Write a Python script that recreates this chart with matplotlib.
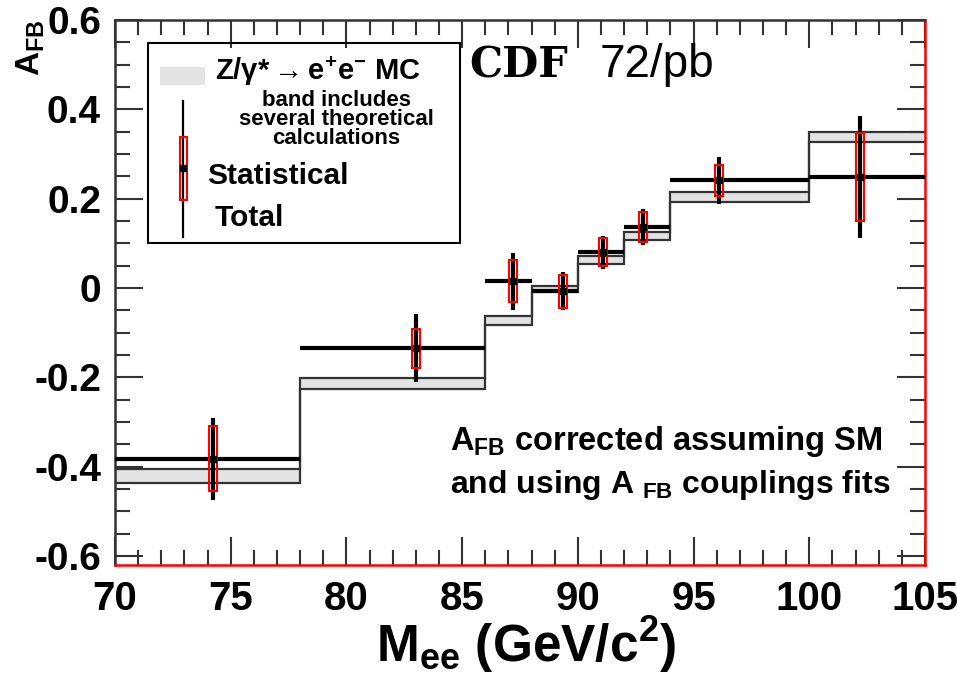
"""
CDF forward-backward asymmetry A_FB vs dielectron mass, data vs Z/gamma* MC band.
"""

import numpy as np
import matplotlib
matplotlib.use("Agg")
import matplotlib.pyplot as plt
from matplotlib.patches import Rectangle
from matplotlib.ticker import MultipleLocator

plt.rcParams.update({
    "font.family": "Liberation Sans",
    "font.weight": "bold",
    "axes.unicode_minus": False,
    "mathtext.fontset": "custom",
    "mathtext.rm": "Liberation Sans:bold",
    "mathtext.bf": "Liberation Sans:bold",
    "mathtext.it": "Liberation Sans:bold:italic",
    "mathtext.default": "bf",
})

# --- MC band (bins) ---
bin_edges = [70, 78, 86, 88, 90, 92, 94, 100, 105]
mc_low = [-0.436, -0.227, -0.082, -0.009, 0.054, 0.108, 0.193, 0.326]
mc_high = [-0.405, -0.202, -0.062, 0.004, 0.072, 0.126, 0.216, 0.350]

# --- data ---
data_x = [74.25, 83.0, 87.2, 89.35, 91.1, 92.8, 96.1, 102.2]
data_y = [-0.382, -0.135, 0.015, -0.007, 0.080, 0.137, 0.241, 0.249]
stat_err = [0.073, 0.044, 0.047, 0.037, 0.031, 0.034, 0.035, 0.099]
total_err = [0.092, 0.076, 0.064, 0.043, 0.037, 0.040, 0.053, 0.137]

x_ticks = [70, 75, 80, 85, 90, 95, 100, 105]
y_ticks = [-0.6, -0.4, -0.2, 0, 0.2, 0.4, 0.6]
y_ticklabels = ["-0.6", "-0.4", "-0.2", "0", "0.2", "0.4", "0.6"]

fig = plt.figure(figsize=(9.57, 6.76), dpi=100)
ax = fig.add_axes([115 / 957, 111 / 676, 810 / 957, 545 / 676])

edges = np.array(bin_edges)
lo = np.array(mc_low)
hi = np.array(mc_high)

# band
ax.stairs(hi, edges, baseline=lo, fill=True, color="#e3e3e3", zorder=1)
ax.stairs(hi, edges, baseline=None, color="#333333", linewidth=1.6, zorder=2)
ax.stairs(lo, edges, baseline=None, color="#333333", linewidth=1.6, zorder=2)

# data bin lines
ax.hlines(data_y, edges[:-1], edges[1:], color="black", linewidth=3, zorder=3)

# total errors
ax.errorbar(data_x, data_y, yerr=total_err, fmt="none", ecolor="black",
            elinewidth=3, capsize=0, zorder=4)

# statistical boxes
half_w = 0.17
for x, y, s in zip(data_x, data_y, stat_err):
    ax.add_patch(Rectangle((x - half_w, y - s), 2 * half_w, 2 * s,
                           fill=False, edgecolor="red", linewidth=1.5, zorder=5))
ax.plot(data_x, data_y, "s", color="black", markersize=4, zorder=6)

# --- AXES ---
ax.set_xlim(70, 105)
ax.set_ylim(-0.62, 0.6)
ax.set_xticks(x_ticks)
ax.set_yticks(y_ticks)
ax.set_yticklabels(y_ticklabels)
ax.xaxis.set_minor_locator(MultipleLocator(1))
ax.yaxis.set_minor_locator(MultipleLocator(0.05))
ax.tick_params(which="both", direction="in", top=True, right=True,
               color="#333333", width=1.5)
ax.tick_params(which="major", length=20)
ax.tick_params(which="minor", length=11)
ax.tick_params(axis="y", labelsize=28, pad=10)
ax.tick_params(axis="x", labelsize=29, pad=11)
for lab in ax.get_xticklabels() + ax.get_yticklabels():
    lab.set_fontweight("bold")

for side in ["left", "top"]:
    ax.spines[side].set_color("#333333")
    ax.spines[side].set_linewidth(1.8)
for side in ["bottom", "right"]:
    ax.spines[side].set_color("red")
    ax.spines[side].set_linewidth(1.8)

# axis titles
fig.text(0.550, 0.046, r"M$_{ee}$ (GeV/c$^{2}$)", fontsize=37,
         fontweight="bold", ha="center", va="center")
fig.text(0.032, 0.930, r"A$_{FB}$", fontsize=24, fontweight="bold",
         rotation=90, ha="center", va="center")

# --- legend box (drawn by hand) ---
ax.add_patch(Rectangle((0.041, 0.591), 0.385, 0.367, transform=ax.transAxes,
                       fill=False, edgecolor="black", linewidth=1.5, zorder=7))
ax.add_patch(Rectangle((0.056, 0.881), 0.055, 0.033, transform=ax.transAxes,
                       facecolor="#e3e3e3", edgecolor="none", zorder=7))
ax.text(0.123, 0.905, r"Z/$\gamma$*$\rightarrow$e$^{+}$e$^{-}$ MC",
        transform=ax.transAxes, fontsize=21, fontweight="bold",
        ha="left", va="center", zorder=8)
ax.text(0.273, 0.818, "band includes\nseveral theoretical\ncalculations",
        transform=ax.transAxes, fontsize=16, fontweight="bold",
        ha="center", va="center", linespacing=0.88, zorder=8)
ax.plot([0.084, 0.084], [0.602, 0.851], transform=ax.transAxes,
        color="black", linewidth=1.6, zorder=8)
ax.add_patch(Rectangle((0.080, 0.670), 0.009, 0.115, transform=ax.transAxes,
                       fill=False, edgecolor="red", linewidth=1.5, zorder=8))
ax.plot([0.084], [0.728], "s", color="black", markersize=4,
        transform=ax.transAxes, zorder=9)
ax.text(0.114, 0.714, "Statistical", transform=ax.transAxes, fontsize=21.5,
        fontweight="bold", ha="left", va="center", zorder=8)
ax.text(0.123, 0.637, "Total", transform=ax.transAxes, fontsize=21.5,
        fontweight="bold", ha="left", va="center", zorder=8)

# CDF label
ax.text(0.437, 0.917, "CDF", transform=ax.transAxes, fontsize=30,
        fontweight="bold", family="DejaVu Serif", ha="left", va="center")
ax.text(0.598, 0.917, "72/pb", transform=ax.transAxes, fontsize=33,
        fontweight="normal", ha="left", va="center")

# annotation
ax.text(0.414, 0.226, r"A$_{FB}$ corrected assuming SM", transform=ax.transAxes,
        fontsize=23.5, fontweight="bold", ha="left", va="center")
ax.text(0.414, 0.147, r"and using A $_{FB}$ couplings fits", transform=ax.transAxes,
        fontsize=23, fontweight="bold", ha="left", va="center")

fig.savefig("out.png", dpi=100)
